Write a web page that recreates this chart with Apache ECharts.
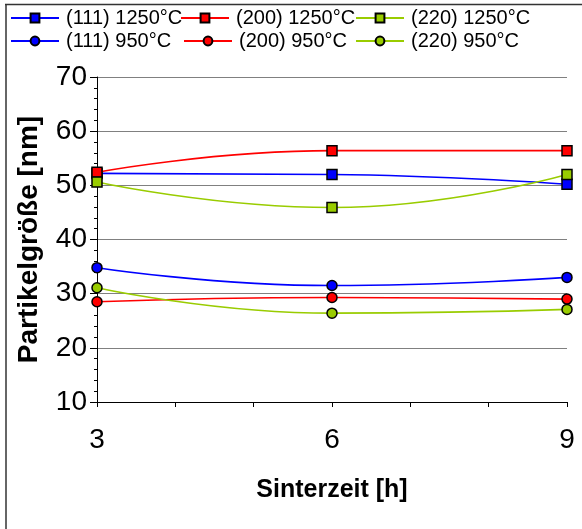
<!DOCTYPE html>
<html>
<head>
<meta charset="utf-8">
<style>
  html, body { margin: 0; padding: 0; background: #fff; }
  #chart { width: 582px; height: 529px; }
</style>
<script src="https://cdn.jsdelivr.net/npm/echarts@6/dist/echarts.min.js"></script>
</head>
<body>
<div id="chart"></div>
<script>
// Sintering time in hours
const sinterzeit = [3, 6, 9];
const xTickLabels = [3, 6, 9];
const yTickLabels = [10, 20, 30, 40, 50, 60, 70];

// Crystallite size in nm per reflection and sintering temperature
const s111_1250 = [52.2, 52.0, 50.2];
const s200_1250 = [52.4, 56.4, 56.4];
const s220_1250 = [50.6, 45.9, 52.0];
const s111_950 = [34.8, 31.5, 33.0];
const s200_950 = [28.5, 29.3, 29.0];
const s220_950 = [31.1, 26.4, 27.1];

const names = ['(111) 1250°C', '(200) 1250°C', '(220) 1250°C',
               '(111) 950°C', '(200) 950°C', '(220) 950°C'];
const values = [s111_1250, s200_1250, s220_1250, s111_950, s200_950, s220_950];
const colors = ['#0000ff', '#ff0000', '#99cc00', '#0000ff', '#ff0000', '#99cc00'];
const symbols = ['rect', 'rect', 'rect', 'circle', 'circle', 'circle'];

const FONT = '"Liberation Sans", Arial, sans-serif';

const series = names.map((name, i) => ({
  name: name,
  type: 'line',
  smooth: 0.5,
  data: sinterzeit.map((x, j) => [x, values[i][j]]),
  symbol: symbols[i],
  symbolSize: 10,
  lineStyle: { color: colors[i], width: 1.6 },
  itemStyle: { color: colors[i], borderColor: '#000', borderWidth: 1.5 },
  z: 3 + i
}));

// One legend block per entry so the columns line up
const legendPos = [
  [10, 8], [180, 8], [355, 8],
  [10, 31], [183, 31], [355, 31]
];
const legends = names.map((name, i) => ({
  data: [name],
  left: legendPos[i][0],
  top: legendPos[i][1],
  itemWidth: 48,
  itemHeight: 11,
  itemGap: 0,
  padding: 0,
  selectedMode: false,
  textStyle: { fontFamily: FONT, fontSize: 20, color: '#000', padding: [0, 0, 0, 2] }
}));

const chart = echarts.init(document.getElementById('chart'), null, { renderer: 'canvas' });
chart.setOption({
  animation: false,
  backgroundColor: '#fff',
  legend: legends,
  grid: { left: 97, right: 15, top: 77, bottom: 127, containLabel: false },
  xAxis: {
    type: 'value',
    min: 3, max: 9, interval: 1,
    name: 'Sinterzeit [h]',
    nameLocation: 'middle',
    nameGap: 76,
    nameTextStyle: { fontFamily: FONT, fontSize: 25, fontWeight: 'bold', color: '#000' },
    axisLine: { show: true, lineStyle: { color: '#000', width: 1 } },
    axisTick: { show: true, length: 5, lineStyle: { color: '#000' } },
    axisLabel: {
      margin: 24,
      fontFamily: FONT, fontSize: 28, color: '#000',
      formatter: v => (xTickLabels.indexOf(v) >= 0 ? String(v) : '')
    },
    splitLine: { show: false }
  },
  yAxis: {
    type: 'value',
    min: 10, max: 70, interval: 10,
    name: 'Partikelgröße [nm]',
    nameLocation: 'middle',
    nameGap: 54,
    nameTextStyle: { fontFamily: FONT, fontSize: 28, fontWeight: 'bold', color: '#000' },
    axisLine: { show: true, lineStyle: { color: '#000', width: 1 } },
    axisTick: { show: true, length: 7, lineStyle: { color: '#000' } },
    minorTick: { show: true, splitNumber: 5, length: 3, lineStyle: { color: '#000' } },
    axisLabel: {
      margin: 10,
      fontFamily: FONT, fontSize: 28, color: '#000',
      formatter: v => (yTickLabels.indexOf(v) >= 0 ? String(v) : '')
    },
    splitLine: { show: true, lineStyle: { color: '#808080', width: 1 } }
  },
  graphic: [
    { type: 'line', shape: { x1: 5, y1: 4.5, x2: 582, y2: 4.5 }, style: { stroke: '#333', lineWidth: 1.5 }, silent: true },
    { type: 'line', shape: { x1: 6, y1: 4, x2: 6, y2: 529 }, style: { stroke: '#333', lineWidth: 1.5 }, silent: true }
  ],
  series: series
});
</script>
</body>
</html>
